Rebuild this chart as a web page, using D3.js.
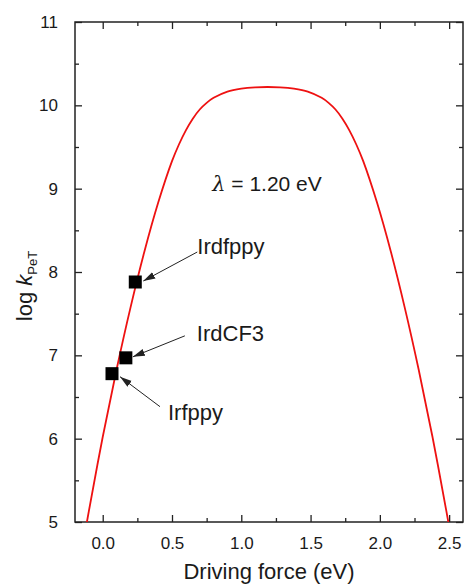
<!DOCTYPE html>
<html><head><meta charset="utf-8">
<script src="https://cdn.jsdelivr.net/npm/d3@7"></script>
<style>body{margin:0;background:#fff}svg{display:block}text{font-family:"Liberation Sans",Arial,sans-serif;fill:#1a1a1a}</style>
</head><body><svg id="c" width="464" height="585"></svg>
<script>
// Marcus curve (driving force in eV, log k)
const curveX = [-0.13, -0.1, 0.0, 0.1, 0.2, 0.3, 0.4, 0.5, 0.55, 0.6, 0.65, 0.7, 0.75, 0.8, 0.9, 1.0, 1.1, 1.19, 1.28, 1.38, 1.48, 1.58, 1.63, 1.68, 1.73, 1.78, 1.83, 1.88, 1.98, 2.08, 2.18, 2.28, 2.38, 2.48, 2.51];
const curveY = [4.85, 5.13, 6.02, 6.83, 7.57, 8.24, 8.83, 9.33, 9.53, 9.70, 9.84, 9.95, 10.03, 10.09, 10.165, 10.20, 10.216, 10.22, 10.216, 10.20, 10.165, 10.09, 10.03, 9.95, 9.84, 9.70, 9.53, 9.33, 8.83, 8.24, 7.57, 6.83, 6.02, 5.13, 4.85];
// Experimental points
const complexNames = ["Irfppy", "IrdCF3", "Irdfppy"];
const complexX = [0.067, 0.167, 0.235];
const complexY = [6.78, 6.97, 7.88];
// Axes
const xTicks = [0, 0.5, 1.0, 1.5, 2.0, 2.5];
const xMinorTicks = [-0.25, 0.25, 0.75, 1.25, 1.75, 2.25];
const yTicks = [5, 6, 7, 8, 9, 10, 11];
const yMinorTicks = [5.5, 6.5, 7.5, 8.5, 9.5, 10.5];
const xDomain = [-0.2, 2.6];
const yDomain = [5, 11];
const xTitle = "Driving force (eV)";
const lambdaText = "= 1.20 eV";

const W = 464, H = 585;
const m = {left: 75, top: 22, right: 1, bottom: 63};
const iw = W - m.left - m.right, ih = H - m.top - m.bottom;
const svg = d3.select("#c");
const g = svg.append("g").attr("transform", `translate(${m.left},${m.top})`);
const x = d3.scaleLinear().domain(xDomain).range([0, iw]);
const y = d3.scaleLinear().domain(yDomain).range([ih, 0]);

svg.append("defs").append("clipPath").attr("id", "clip")
  .append("rect").attr("width", iw).attr("height", ih);
svg.select("defs").append("marker").attr("id", "arr")
  .attr("viewBox", "0 -5 12 10").attr("markerUnits", "userSpaceOnUse")
  .attr("markerWidth", 12).attr("markerHeight", 10).attr("refX", 12).attr("refY", 0)
  .attr("orient", "auto")
  .append("path").attr("d", "M0,-3.6L12,0L0,3.6Z").attr("fill", "#222");

const axisStyle = sel => {
  sel.select(".domain").remove();
  sel.selectAll("line").attr("stroke", "#222").attr("stroke-width", 1.3);
};
const fmt = d3.format(".1f");
// bottom
g.append("g").attr("transform", `translate(0,${ih})`)
  .call(d3.axisBottom(x).tickValues(xTicks).tickSize(-7).tickPadding(15).tickFormat(fmt))
  .call(axisStyle)
  .call(s => s.selectAll("text").attr("font-size", 17).attr("font-family", "Liberation Sans, Arial, sans-serif").attr("fill", "#1a1a1a"));
g.append("g").attr("transform", `translate(0,${ih})`)
  .call(d3.axisBottom(x).tickValues(xMinorTicks.filter(v => v > xDomain[0])).tickSize(-4).tickFormat(""))
  .call(axisStyle);
// top
g.append("g").call(d3.axisTop(x).tickValues(xTicks).tickSize(-7).tickFormat("")).call(axisStyle);
g.append("g").call(d3.axisTop(x).tickValues(xMinorTicks.filter(v => v > xDomain[0])).tickSize(-4).tickFormat("")).call(axisStyle);
// left
g.append("g")
  .call(d3.axisLeft(y).tickValues(yTicks).tickSize(-7).tickPadding(17).tickFormat(d3.format("d")))
  .call(axisStyle)
  .call(s => s.selectAll("text").attr("font-size", 17).attr("font-family", "Liberation Sans, Arial, sans-serif").attr("fill", "#1a1a1a"));
g.append("g").call(d3.axisLeft(y).tickValues(yMinorTicks).tickSize(-4).tickFormat("")).call(axisStyle);
// right
g.append("g").attr("transform", `translate(${iw},0)`)
  .call(d3.axisRight(y).tickValues(yTicks).tickSize(-7).tickFormat("")).call(axisStyle);
g.append("g").attr("transform", `translate(${iw},0)`)
  .call(d3.axisRight(y).tickValues(yMinorTicks).tickSize(-4).tickFormat("")).call(axisStyle);
// frame
g.append("rect").attr("width", iw).attr("height", ih).attr("fill", "none")
  .attr("stroke", "#222").attr("stroke-width", 1.5);

// curve
const pts = curveX.map((v, i) => [v, curveY[i]]);
g.append("path").datum(pts).attr("clip-path", "url(#clip)")
  .attr("fill", "none").attr("stroke", "#ee1111").attr("stroke-width", 1.8)
  .attr("d", d3.line().x(d => x(d[0])).y(d => y(d[1])).curve(d3.curveCatmullRom.alpha(0.5)));

// squares
const sq = 13;
g.selectAll("rect.pt").data(complexX).join("rect").attr("class", "pt")
  .attr("x", (d) => x(d) - sq / 2).attr("y", (d, i) => y(complexY[i]) - sq / 2)
  .attr("width", sq).attr("height", sq).attr("fill", "#000");

// annotations (layout offsets from each point)
const ann = {
  "Irfppy":  {tx: 56, ty: 39, ax0: 48, ay0: 33, ax1: 8, ay1: 3},
  "IrdCF3":  {tx: 71, ty: -25, ax0: 59, ay0: -22, ax1: 7, ay1: -1},
  "Irdfppy": {tx: 62, ty: -36, ax0: 62, ay0: -30, ax1: 8, ay1: -1}
};
complexNames.forEach((name, i) => {
  const px = x(complexX[i]), py = y(complexY[i]), a = ann[name];
  g.append("line").attr("x1", px + a.ax0).attr("y1", py + a.ay0)
    .attr("x2", px + a.ax1).attr("y2", py + a.ay1)
    .attr("stroke", "#222").attr("stroke-width", 1).attr("marker-end", "url(#arr)");
  g.append("text").attr("x", px + a.tx).attr("y", py + a.ty).attr("dy", "0.35em")
    .attr("font-size", 22).text(name);
});

// lambda label
const lt = g.append("text").attr("x", x(0.79)).attr("y", y(9.0) + 2).attr("font-size", 21);
lt.append("tspan").attr("font-style", "italic").attr("font-family", "DejaVu Serif, serif").text("λ");
lt.append("tspan").text(" " + lambdaText);

// x title
svg.append("text").attr("x", m.left + iw / 2).attr("y", 579).attr("text-anchor", "middle")
  .attr("font-size", 22).text(xTitle);
// y title
const yt = svg.append("text").attr("transform", `translate(32,286) rotate(-90)`)
  .attr("text-anchor", "middle").attr("font-size", 22);
yt.append("tspan").text("log ");
yt.append("tspan").attr("font-style", "italic").text("k");
yt.append("tspan").attr("font-size", 13).attr("dy", 5).text("PeT");
</script></body></html>
